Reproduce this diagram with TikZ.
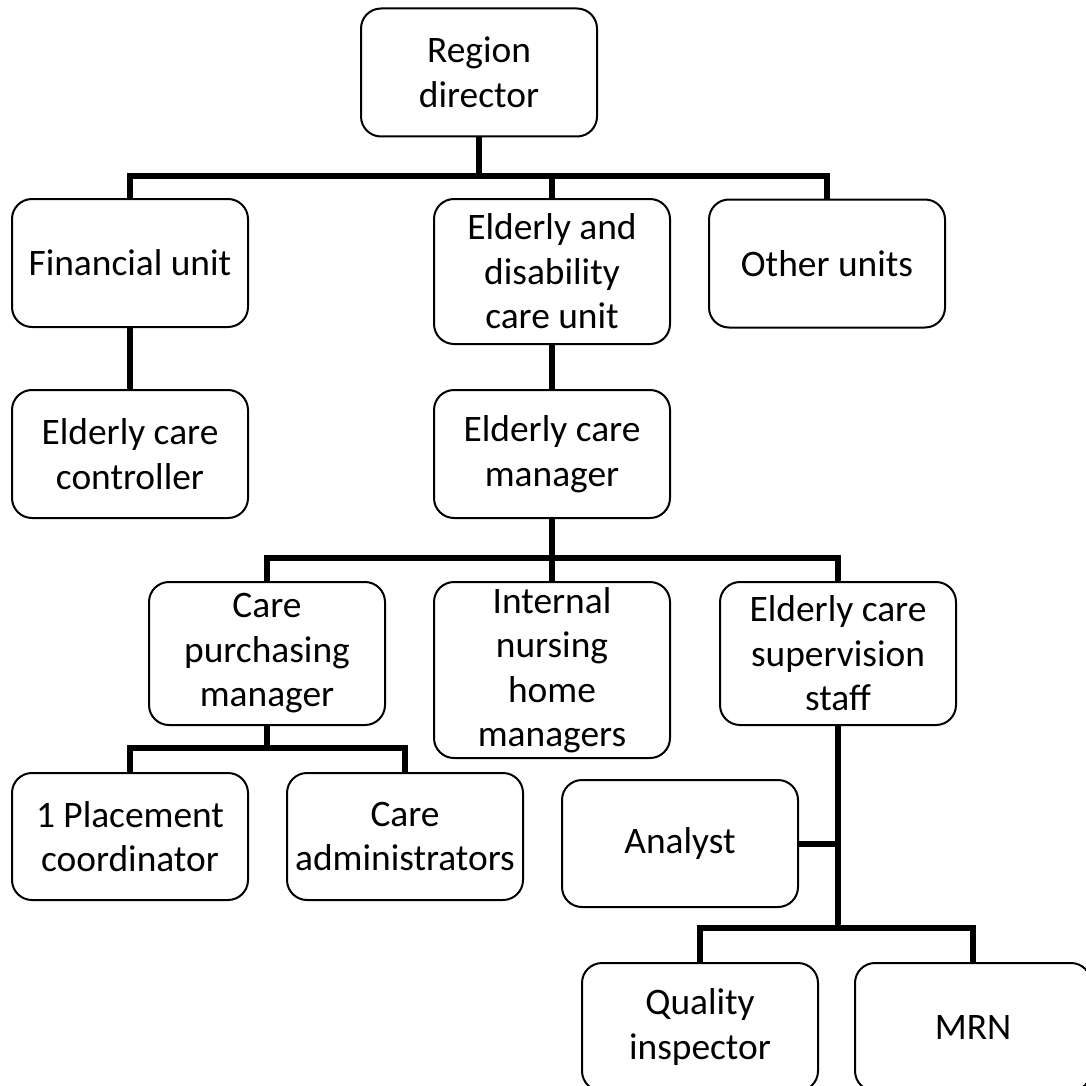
\documentclass[tikz,border=0pt]{standalone}
\usepackage{fontspec}
\setmainfont{Carlito}
\begin{document}
\begin{tikzpicture}[x=1pt,y=-1pt,
  unit/.style={draw=black, line width=2pt, rounded corners=20pt, fill=white,
    minimum width=236pt, minimum height=128pt, inner sep=0pt, align=center,
    font=\fontsize{37.4}{44.5}\selectfont},
  link/.style={line width=6pt, line join=miter}]
\useasboundingbox (0,0) rectangle (1086,1086);
\clip (0,0) rectangle (1086,1086);

% boxes
\node[unit] (dir) at (479,72.5) {Region\\director};
\node[unit] (fin) at (130,263) {Financial unit};
\node[unit, minimum height=145pt] (eld) at (552,271.5) {Elderly and\\disability\\care unit};
\node[unit] (oth) at (827,263.5) {Other units};
\node[unit] (ctl) at (130,454) {Elderly care\\controller};
\node[unit] (mgr) at (552,454) {Elderly care\\manager};
\node[unit, minimum height=143pt] (cpm) at (267,653.5) {Care\\purchasing\\manager};
\node[unit, minimum height=176pt] (inh) at (552,670) {Internal\\nursing\\home\\managers};
\node[unit, minimum height=143pt] (sup) at (838,653.5) {Elderly care\\supervision\\staff};
\node[unit, minimum height=127pt] (plc) at (130,836.5) {1 Placement\\coordinator};
\node[unit, minimum height=127pt] (adm) at (405,836.5) {Care\\administrators};
\node[unit, minimum height=127pt] (ana) at (680,843.5) {Analyst};
\node[unit] (qua) at (700,1027) {Quality\\inspector};
\node[unit] (mrn) at (973,1027) {MRN};

% levels of the horizontal bars
\coordinate (b1) at (0,176);
\coordinate (b2) at (0,558);
\coordinate (b3) at (0,748);
\coordinate (b4) at (0,928);

% connectors
\draw[link] (dir.south) -- (b1 -| dir.south);
\draw[link] (fin.north) |- (b1 -| oth.north) -- (oth.north);
\draw[link] (eld.north) -- (b1 -| eld.north);
\draw[link] (fin.south) -- (ctl.north);
\draw[link] (eld.south) -- (mgr.north);
\draw[link] (mgr.south) -- (inh.north);
\draw[link] (cpm.north) |- (b2 -| sup.north) -- (sup.north);
\draw[link] (plc.north) |- (b3 -| adm.north) -- (adm.north);
\draw[link] (cpm.south) -- (b3 -| cpm.south);
\draw[link] (sup.south) -- (b4 -| sup.south);
\draw[link] (ana.east) -- (ana.east -| sup.south);
\draw[link] (qua.north) |- (b4 -| mrn.north) -- (mrn.north);
\end{tikzpicture}
\end{document}
